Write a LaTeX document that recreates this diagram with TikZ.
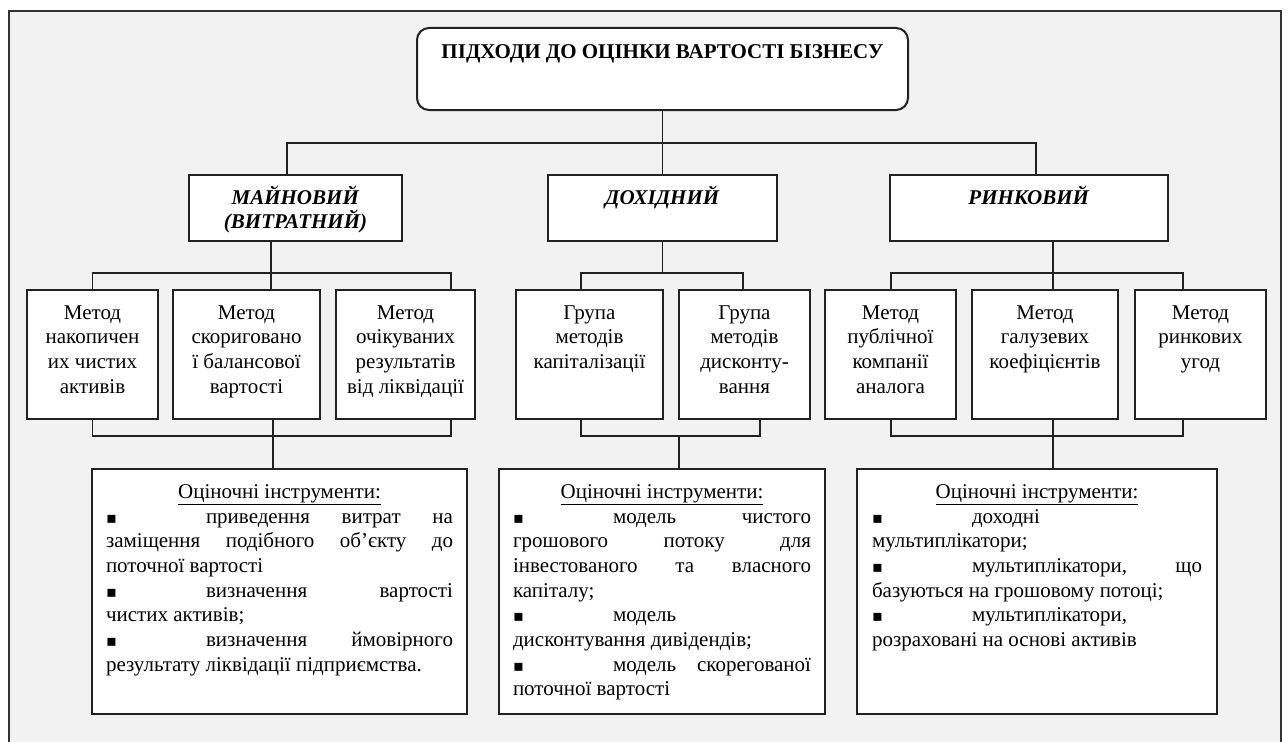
\documentclass[tikz,border=0pt]{standalone}
\usepackage{fontspec}
\setmainfont{Liberation Serif}
\newfontfamily\symf{DejaVu Sans}
\usetikzlibrary{calc}
\definecolor{bg}{HTML}{F2F2F2}
\definecolor{ln}{HTML}{222222}
\definecolor{fr}{HTML}{333333}
\newcommand\bul{{\symf\fontsize{12pt}{12pt}\selectfont ▪}}
\newcommand\jl[1]{\hbox to\linewidth{#1}}
\newcommand\bl[1]{\hbox to\linewidth{\makebox[75pt][l]{\bul}#1}}
% style, name, x1, y1, x2, y2, xpad(px), content
\newcommand\mkbox[8]{%
  \pgfmathsetmacro\bw{(#5-#3-2*#7)*0.75}%
  \pgfmathsetmacro\bh{(#6-#4)*0.75}%
  \pgfmathsetmacro\bp{#7*0.75}%
  \node[#1, inner xsep=\bp pt] (#2) at ({(#3+#5)/2},{(#4+#6)/2}) {\parbox[c][\bh pt][t]{\bw pt}{#8}};}
\tikzset{
  box/.style={draw=ln, fill=white, line width=1.5pt, inner ysep=0pt},
  topbox/.style={box, rounded corners=9pt},
  conn/.style={draw=ln, line width=1.4pt},
  frame/.style={draw=fr, line width=2pt}
}
\begin{document}
\begin{tikzpicture}[x=0.75pt,y=-0.75pt,font=\fontsize{15.75pt}{18.5pt}\selectfont]
\useasboundingbox (0,0) rectangle (1288,742);
\fill[white] (0,0) rectangle (1288,742);
\fill[bg] (9,11) rectangle (1281,742);
\draw[frame] (9,742) -- (9,11) -- (1281,11) -- (1281,742);

% top
\mkbox{topbox}{top}{417}{28}{908}{110}{0}{\centering\rule{0pt}{23.25pt}\textbf{ПІДХОДИ ДО ОЦІНКИ ВАРТОСТІ БІЗНЕСУ}\par}

% level 1
\mkbox{box}{M}{189}{175}{402}{241}{0}{\centering\rule{0pt}{21.75pt}\textbf{\textit{МАЙНОВИЙ}}\\\textbf{\textit{(ВИТРАТНИЙ)}}\par}
\mkbox{box}{D}{548}{175}{777}{241}{0}{\centering\rule{0pt}{21.75pt}\textbf{\textit{ДОХІДНИЙ}}\par}
\mkbox{box}{R}{890}{175}{1168}{241}{0}{\centering\rule{0pt}{21.75pt}\textbf{\textit{РИНКОВИЙ}}\par}

% level 2
\mkbox{box}{B1}{27}{290}{158}{419}{0}{\centering\rule{0pt}{21.75pt}Метод\\накопичен\\их чистих\\активів\par}
\mkbox{box}{B2}{173}{290}{320}{419}{0}{\centering\rule{0pt}{21.75pt}Метод\\скориговано\\ї балансової\\вартості\par}
\mkbox{box}{B3}{336}{290}{475}{419}{0}{\centering\rule{0pt}{21.75pt}Метод\\очікуваних\\результатів\\від ліквідації\par}
\mkbox{box}{B4}{516}{290}{663}{419}{0}{\centering\rule{0pt}{21.75pt}Група\\методів\\капіталізації\par}
\mkbox{box}{B5}{679}{290}{810}{419}{0}{\centering\rule{0pt}{21.75pt}Група\\методів\\дисконту-\\вання\par}
\mkbox{box}{B6}{825}{290}{956}{419}{0}{\centering\rule{0pt}{21.75pt}Метод\\публічної\\компанії\\аналога\par}
\mkbox{box}{B7}{972}{290}{1118}{419}{0}{\centering\rule{0pt}{21.75pt}Метод\\галузевих\\коефіцієнтів\par}
\mkbox{box}{B8}{1135}{290}{1266}{419}{0}{\centering\rule{0pt}{21.75pt}Метод\\ринкових\\угод\par}

% level 3
\mkbox{box}{T1}{92}{469}{467}{714}{14}{%
\jl{\rule{0pt}{22pt}\hfil\underline{Оціночні інструменти:}\hfil}
\bl{приведення\hfill витрат\hfill на}
\jl{заміщення\hfill подібного\hfill об’єкту\hfill до}
\jl{поточної вартості\hfill}
\bl{визначення\hfill вартості}
\jl{чистих активів;\hfill}
\bl{визначення\hfill ймовірного}
\jl{результату ліквідації підприємства.\hfill}}
\mkbox{box}{T2}{499}{469}{825}{714}{14}{%
\jl{\rule{0pt}{22pt}\hfil\underline{Оціночні інструменти:}\hfil}
\bl{модель\hfill чистого}
\jl{грошового\hfill потоку\hfill для}
\jl{інвестованого\hfill та\hfill власного}
\jl{капіталу;\hfill}
\bl{модель\hfill}
\jl{дисконтування дивідендів;\hfill}
\bl{модель\hfill скорегованої}
\jl{поточної вартості\hfill}}
\mkbox{box}{T3}{857}{469}{1217}{714}{15}{%
\jl{\rule{0pt}{22pt}\hfil\underline{Оціночні інструменти:}\hfil}
\bl{доходні\hfill}
\jl{мультиплікатори;\hfill}
\bl{мультиплікатори,\hfill що}
\jl{базуються на грошовому потоці;\hfill}
\bl{мультиплікатори,\hfill}
\jl{розраховані на основі активів\hfill}}

% junction coordinates
\coordinate (jM) at (287,143);
\coordinate (jR) at (1036,143);
\coordinate (cM) at (271,273);
\coordinate (cL3) at (451,273);
\coordinate (bL) at (273,436);
\coordinate (bL3) at (451,436);
\coordinate (c4) at (581,273);
\coordinate (c5) at (743,273);
\coordinate (d4) at (581,436);
\coordinate (d5) at (760,436);
\coordinate (dT) at (679,436);
\coordinate (cR) at (1053,273);
\coordinate (c6) at (891,273);
\coordinate (c8) at (1183,273);
\coordinate (e6) at (891,436);
\coordinate (e8) at (1183,436);

% connectors
\draw[conn] (top.south) -- (top.south |- D.north);
\draw[conn] (M.north -| jM) -- (jM) -- (jR) -- (R.north -| jR);

\draw[conn] (M.south -| cM) -- (B2.north -| cM);
\draw[conn] (B1.north) -- (B1.north |- cM) -- (cL3) -- (B3.north -| cL3);
\draw[conn] (B1.south) -- (B1.south |- bL) -- (bL3) -- (B3.south -| bL3);
\draw[conn] (B2.south -| bL) -- (T1.north -| bL);

\draw[conn] (D.south) -- (D.south |- c4);
\draw[conn] (B4.north -| c4) -- (c4) -- (c5) -- (B5.north -| c5);
\draw[conn] (B4.south -| d4) -- (d4) -- (d5) -- (B5.south -| d5);
\draw[conn] (dT) -- (T2.north -| dT);

\draw[conn] (R.south -| cR) -- (B7.north -| cR);
\draw[conn] (B6.north -| c6) -- (c6) -- (c8) -- (B8.north -| c8);
\draw[conn] (B6.south -| e6) -- (e6) -- (e8) -- (B8.south -| e8);
\draw[conn] (B7.south -| cR) -- (T3.north -| cR);
\end{tikzpicture}
\end{document}
